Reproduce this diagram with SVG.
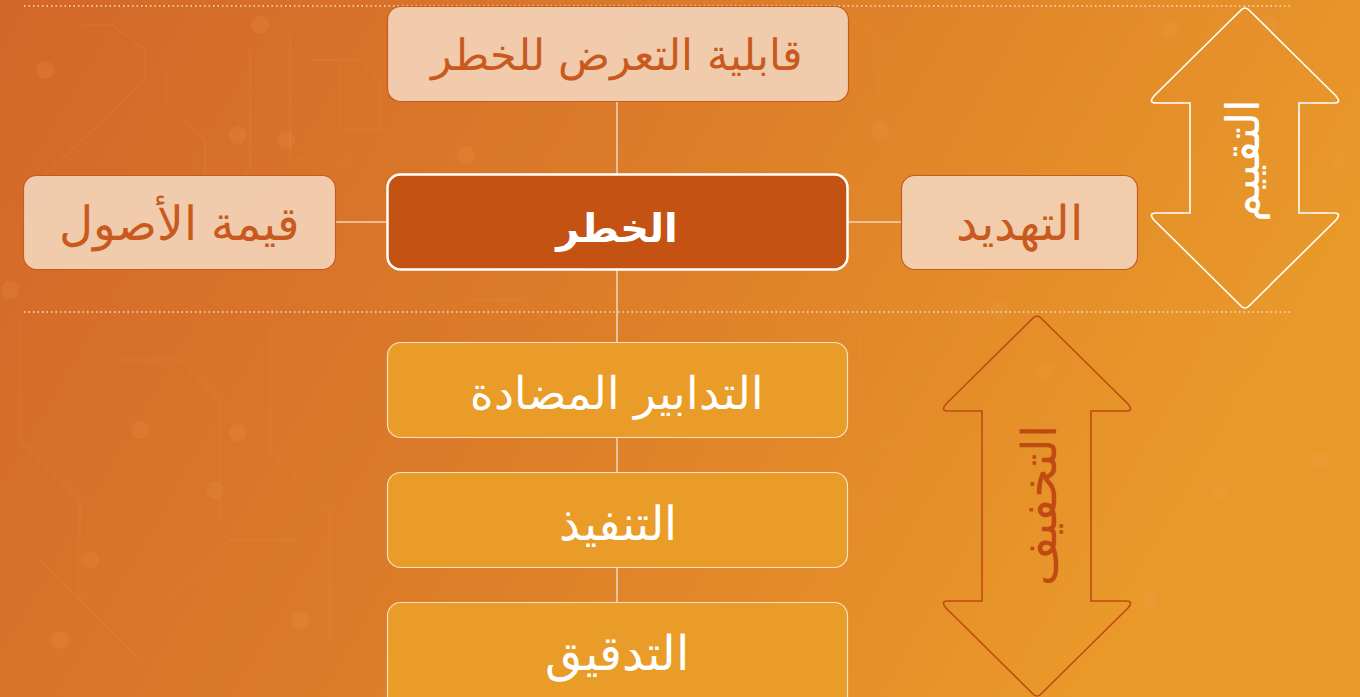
<svg xmlns="http://www.w3.org/2000/svg" width="1360" height="697" viewBox="0 0 1360 697">
  <defs>
    <linearGradient id="bg" x1="0" y1="0" x2="1" y2="0.3">
      <stop offset="0" stop-color="#d3672a"/>
      <stop offset="0.5" stop-color="#dc7c29"/>
      <stop offset="1" stop-color="#e9992a"/>
    </linearGradient>
  </defs>
  <style>
    .ar { font-family: "DejaVu Sans", "Noto Sans", sans-serif; text-anchor: middle; }
    .peach rect { fill: #f2d2b6; fill-opacity: 0.93; stroke: #c95a1d; stroke-width: 1.2; }
    .peach text { fill: #c95a1e; font-size: 44px; font-weight: 300; }
    .amber rect { fill: #e99c27; stroke: #f7e0c6; stroke-width: 1.2; }
    .amber text { fill: #ffffff; font-size: 44px; font-weight: 300; }
    .conn line { stroke: #f2d6bd; stroke-width: 1.5; }
    .dots { stroke: #f6dcc4; stroke-width: 1.5; stroke-dasharray: 1.5 3; }
    .trace { fill: none; stroke: #f0a050; stroke-opacity: 0.14; stroke-width: 1.5; }
    .pad { fill: #f0a050; fill-opacity: 0.16; }
  </style>
  <rect width="1360" height="697" fill="url(#bg)"/>
  <g id="pattern">
    <path class="trace" d="M82,25 L112,25 L145,50 L145,80 L40,180 M166,70 L166,100 L205,140 L205,210 M250,50 L250,170 L200,220 M290,30 L290,160 L350,160 M310,60 L360,60 L380,80 L380,130 L340,130 L340,60 M20,320 L20,440 L80,500 L80,600 M120,360 L180,360 L220,400 L220,520 M270,330 L270,450 L330,510 L330,640 M40,560 L140,660 M170,600 L230,540 L300,540 M860,330 L860,420 L900,460 M880,500 L920,500 L920,600 M1180,340 L1240,340 L1240,420 M1290,400 L1350,400 L1350,520 L1300,570 M1200,470 L1200,600 L1260,660 M1160,20 L1160,80 L1190,110 M1300,30 L1300,140 L1350,180 M1320,320 L1320,380 M1270,600 L1350,600 M860,20 L880,40 L880,100 M470,300 L520,300 L560,330"/>
    <circle class="pad" cx="45" cy="70" r="9"/>
    <circle class="pad" cx="135" cy="210" r="9"/>
    <circle class="pad" cx="260" cy="25" r="9"/>
    <circle class="pad" cx="286" cy="140" r="9"/>
    <circle class="pad" cx="238" cy="135" r="9"/>
    <circle class="pad" cx="10" cy="290" r="9"/>
    <circle class="pad" cx="90" cy="560" r="9"/>
    <circle class="pad" cx="140" cy="430" r="9"/>
    <circle class="pad" cx="238" cy="433" r="9"/>
    <circle class="pad" cx="215" cy="490" r="9"/>
    <circle class="pad" cx="60" cy="640" r="9"/>
    <circle class="pad" cx="300" cy="620" r="9"/>
    <circle class="pad" cx="466" cy="155" r="9"/>
    <circle class="pad" cx="880" cy="130" r="9"/>
    <circle class="pad" cx="1000" cy="310" r="9"/>
    <circle class="pad" cx="1045" cy="370" r="9"/>
    <circle class="pad" cx="1220" cy="490" r="9"/>
    <circle class="pad" cx="1170" cy="30" r="9"/>
    <circle class="pad" cx="1270" cy="25" r="9"/>
    <circle class="pad" cx="1340" cy="160" r="9"/>
    <circle class="pad" cx="1320" cy="460" r="9"/>
    <circle class="pad" cx="1150" cy="600" r="9"/>
  </g>
  <line class="dots" x1="24" y1="6" x2="1290" y2="6"/>
  <line class="dots" x1="24" y1="312" x2="1290" y2="312"/>
  <g id="connectors" class="conn">
    <line x1="617" y1="102" x2="617" y2="174"/>
    <line x1="617" y1="270" x2="617" y2="342"/>
    <line x1="617" y1="438" x2="617" y2="472"/>
    <line x1="617" y1="568" x2="617" y2="602"/>
    <line x1="336" y1="222" x2="387" y2="222"/>
    <line x1="848" y1="222" x2="901" y2="222"/>
  </g>
  <g id="vulnerability" class="peach">
    <rect x="387.5" y="6.5" width="461" height="95" rx="13"/>
    <text class="ar" x="617" y="70" style="font-size:43px">قابلية التعرض للخطر</text>
  </g>
  <g id="asset-value" class="peach">
    <rect x="23.5" y="175.5" width="312" height="94" rx="13"/>
    <text class="ar" x="179" y="240" style="font-size:47px">قيمة الأصول</text>
  </g>
  <g id="risk">
    <rect x="387.5" y="174.5" width="460" height="95" rx="13" fill="#c45313" stroke="#ffffff" stroke-width="2.5"/>
    <text class="ar" x="617" y="242" fill="#ffffff" font-size="40" font-weight="bold">الخطر</text>
  </g>
  <g id="threat" class="peach">
    <rect x="901.5" y="175.5" width="236" height="94" rx="13"/>
    <text class="ar" x="1019" y="240" style="font-size:48px">التهديد</text>
  </g>
  <g id="countermeasures" class="amber">
    <rect x="387.5" y="342.5" width="460" height="95" rx="13"/>
    <text class="ar" x="617" y="409" style="font-size:45px">التدابير المضادة</text>
  </g>
  <g id="implementation" class="amber">
    <rect x="387.5" y="472.5" width="460" height="95" rx="13"/>
    <text class="ar" x="618" y="540" style="font-size:47px">التنفيذ</text>
  </g>
  <g id="audit" class="amber">
    <rect x="387.5" y="602.5" width="460" height="110" rx="13"/>
    <text class="ar" x="617" y="670" style="font-size:48px">التدقيق</text>
  </g>
  <g id="assessment-arrow">
    <path d="M1240,11 Q1245,5 1250,11 L1336,96 Q1342,103 1334,103 L1299,103 L1299,213 L1334,213 Q1342,213 1336,220 L1250,305 Q1245,311 1240,305 L1154,220 Q1148,213 1156,213 L1190,213 L1190,103 L1156,103 Q1148,103 1154,96 Z" fill="none" stroke="#ffffff" stroke-width="1.6"/>
    <text class="ar" transform="translate(1259,160) rotate(-90)" fill="#ffffff" font-size="46" font-weight="300">التقييم</text>
  </g>
  <g id="mitigation-arrow">
    <path d="M1032,319 Q1037,313 1042,319 L1128,404 Q1134,411 1126,411 L1091,411 L1091,601 L1126,601 Q1134,601 1128,608 L1042,693 Q1037,699 1032,693 L946,608 Q940,601 948,601 L982,601 L982,411 L948,411 Q940,411 946,404 Z" fill="none" stroke="#c14a12" stroke-width="1.6"/>
    <text class="ar" transform="translate(1056,505) rotate(-90)" fill="#c14a12" font-size="48" font-weight="300">التخفيف</text>
  </g>
</svg>
